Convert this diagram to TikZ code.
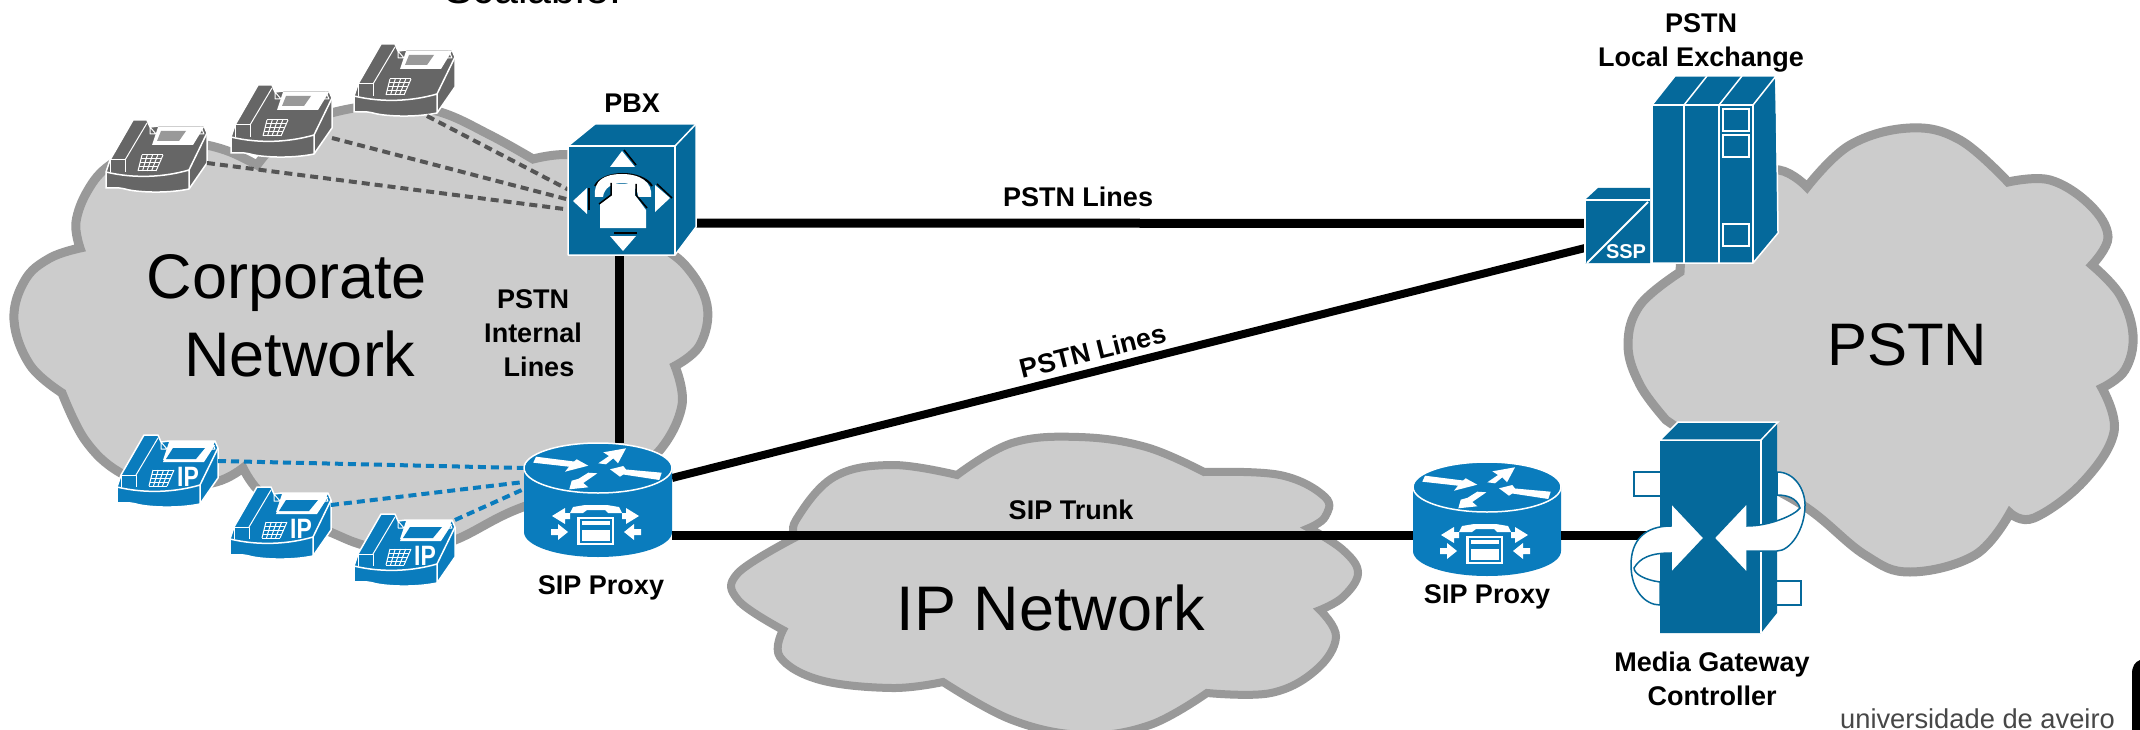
\documentclass[tikz,border=0pt]{standalone}
\usepackage{fontspec}
\setmainfont{Liberation Sans}
\usetikzlibrary{arrows.meta}
\definecolor{cloudfill}{HTML}{CCCCCC}
\definecolor{cloudline}{HTML}{999999}
\definecolor{boxblue}{HTML}{05699B}
\definecolor{devblue}{HTML}{0A7CBD}
\definecolor{phonegray}{HTML}{666666}
\definecolor{dashgray}{HTML}{555555}
\tikzset{
  cloudshape/.style={fill=cloudfill,draw=cloudline,line width=9pt,line join=miter,miter limit=4},
  sm/.style={smooth,tension=0.65},
  wire/.style={line width=9pt,black},
  graydash/.style={line width=4pt,dashgray,dash pattern=on 8pt off 5pt},
  bluedash/.style={line width=4pt,devblue,dash pattern=on 8pt off 5pt},
  lbl/.style={font=\fontsize{27}{34}\selectfont\bfseries,align=center,inner sep=0pt},
  big/.style={font=\fontsize{63}{78}\selectfont,align=center,inner sep=0pt},
  wline/.style={draw=white,line width=1.5pt,line join=round},
}
\newcommand\ipmark{%
  \fill[white] (55,10) -- (99,10) -- (88,27) -- (47,27) -- cycle;
  \fill[devblue] (57,13) -- (89,13) -- (80,24) -- (50,24) -- cycle;
  \node[white,inner sep=0pt,font=\fontsize{28}{28}\selectfont\bfseries] at (72,42) {\scalebox{.82}[1]{IP}};}
% phone: name, x, y, colour, screen colour, extra drawing
\newcommand\phoneicon[6]{%
  \begin{scope}[shift={(#2,#3)}]
    \node[inner sep=0pt,outer sep=0pt,minimum width=102pt,minimum height=72pt,anchor=north west] (#1) at (0,0) {};
    \fill[#4,wline] (1,52) -- (5,40) -- (28,0) -- (42,0) -- (45,7) -- (53,6) -- (99,6) -- (102,13) -- (102,43) -- (84,69)
      .. controls (60,74) and (30,72) .. (20,69) .. controls (12,67) and (6,68) .. (1,68) -- cycle;
    \draw[wline] (1,52) .. controls (30,59) and (60,57) .. (84,50) -- (84,69);
    \draw[wline] (84,50) -- (102,13);
    \draw[wline,line width=1pt] (5,40) -- (20,40) -- (20,52);
    \draw[wline,line width=1pt] (20,40) -- (42,3);
    \draw[wline,line width=1pt] (5,40) -- (5,52);
    \draw[wline,line width=1pt] (45,7) -- (45,14) -- (51,14) -- cycle;
    \draw[wline,line width=1pt] (96,7) -- (99,14) -- (94,14) -- cycle;
    \fill[white] (53,7) -- (99,7) -- (88,25) -- (47,25) -- cycle;
    \fill[#5] (56,11) -- (81,11) -- (74,21) -- (52,21) -- cycle;
    \foreach \t in {0,0.25,0.5,0.75,1}{
      \draw[white,line width=1pt] ({37-4*\t},{35+16*\t}) -- ({58-7*\t},{35+16*\t});
      \draw[white,line width=1pt] ({37+21*\t},35) -- ({33+18*\t},51);
    }
    #6
  \end{scope}}
% router: name, x and y of the centre of the top ellipse
\newcommand\sarrow[4]{\fill[white] (#1,#4) -- (#2,{#4-8}) -- (#2,{#4-3}) -- (#3,{#4-3}) -- (#3,{#4+3}) -- (#2,{#4+3}) -- (#2,{#4+8}) -- cycle;}
\newcommand\routericon[3]{%
  \begin{scope}[shift={(#2,#3)}]
    \node[inner sep=0pt,outer sep=0pt,minimum width=148pt,minimum height=114pt] (#1) at (0,32) {};
    \fill[devblue] (-74,0) -- (-74,64) arc[start angle=180,end angle=360,x radius=74pt,y radius=25pt] -- (74,0)
       arc[start angle=0,end angle=180,x radius=74pt,y radius=25pt] -- cycle;
    \draw[white,line width=1.5pt] (-74,0) arc[start angle=180,end angle=540,x radius=74pt,y radius=25pt];
    \fill[white] (-62,-11.3) -- (-24,-6.5) -- (-21.3,-8.7) -- (-9.7,-2.3) -- (-33,3.7) -- (-29,-1.3) -- (-64.7,-5.3) -- cycle;
    \fill[white] (0.3,-4.7) -- (8,-3.7) -- (15.3,-9.7) -- (20,-4.7) -- (28,-19.7) -- (5.3,-15.7) -- (11,-12) -- cycle;
    \fill[white] (63.7,4.7) -- (28,1.5) -- (25.3,-2) -- (12,1.3) -- (22,8.7) -- (25.3,6.5) -- (61.3,12) -- cycle;
    \fill[white] (-9.7,4.7) -- (-0.7,5.3) -- (-14.7,15) -- (-9.7,19.3) -- (-28.7,21.3) -- (-26.3,12.7) -- (-19.5,10.8) -- cycle;
    \fill[white] (-28,45) -- (-25,39) -- (-13,37) -- (9,37) -- (21,39) -- (24,45) -- (10,45) -- (7,42) -- (-11,42) -- (-15,45) -- cycle;
    \fill[white] (-21,49) rectangle (16,77);
    \fill[devblue] (-18.5,51) rectangle (13.5,74.5);
    \fill[white] (-16,53) rectangle (12,57);
    \fill[white] (-16,62) rectangle (12,73);
    \sarrow{-46}{-33}{-28}{48}
    \sarrow{41}{28}{24}{48}
    \sarrow{-30}{-40}{-47}{64}
    \sarrow{26}{36}{43}{64}
  \end{scope}}
\begin{document}
\begin{tikzpicture}[x=1pt,y=-1pt]
\useasboundingbox (0,0) rectangle (2140,730);
\fill[white] (0,0) rectangle (2140,730);

% clouds
\path[cloudshape]
  plot[sm] coordinates {(80,248) (76,222) (88,190) (110,165) (150,145) (190,143) (225,150) (257,165)}
  -- plot[sm] coordinates {(257,165) (290,130) (335,112) (390,105) (440,112) (490,135) (533,159)}
  -- plot[sm] coordinates {(533,159) (570,155) (610,170) (640,205) (650,240)}
  -- plot[sm] coordinates {(650,240) (685,265) (707,305) (700,345) (675,366)}
  -- plot[sm] coordinates {(675,366) (682,405) (660,450) (620,480)}
  -- plot[sm] coordinates {(620,480) (523,507) (455,540) (405,553) (363,545) (330,532) (290,515) (258,490) (243,468)}
  -- plot[sm] coordinates {(243,468) (216,482) (165,488) (119,472) (85,440) (62,393)}
  -- plot[sm] coordinates {(62,393) (30,365) (14,320) (25,280) (50,258) (80,248)} -- cycle;
\path[cloudshape]
  plot[sm] coordinates {(1680,272) (1690,220) (1730,175) (1779,170) (1807,187)}
  -- plot[sm] coordinates {(1807,187) (1850,145) (1910,128) (1960,140) (2008,182)}
  -- plot[sm] coordinates {(2008,182) (2050,180) (2090,205) (2108,237) (2092,265)}
  -- plot[sm] coordinates {(2092,265) (2120,295) (2133,335) (2125,370) (2102,388)}
  -- plot[sm] coordinates {(2102,388) (2114,432) (2083,482) (2034,518) (2010,513)}
  -- plot[sm] coordinates {(2010,513) (1975,555) (1910,572) (1865,555) (1807,508) (1740,470) (1666,420)}
  -- plot[sm] coordinates {(1666,420) (1640,385) (1628,345) (1640,305) (1680,272)} -- cycle;
\path[cloudshape,line width=8pt]
  plot[sm] coordinates {(796,537) (796,520) (834,477) (892,465) (957,475)}
  -- plot[sm] coordinates {(957,475) (1012,443) (1079,437) (1146,447) (1204,472)}
  -- plot[sm] coordinates {(1204,472) (1280,475) (1325,497) (1325,517) (1309,528)}
  -- plot[sm] coordinates {(1309,528) (1343,550) (1358,573) (1343,597) (1320,610)}
  -- plot[sm] coordinates {(1320,610) (1336,637) (1316,670) (1271,693) (1207,693)}
  -- plot[sm] coordinates {(1207,693) (1150,725) (1084,735) (1012,720) (943,682)}
  -- plot[sm] coordinates {(943,682) (892,688) (820,680) (780,657) (783,630)}
  -- plot[sm] coordinates {(783,630) (738,600) (738,573) (796,537)} -- cycle;

% device anchors
\node[inner sep=0pt,outer sep=0pt,minimum width=128pt,minimum height=131pt] (pbx) at (632,189.5) {};
\node[inner sep=0pt,outer sep=0pt,minimum width=65pt,minimum height=75pt] (ssp) at (1617.5,225.5) {};
\node[inner sep=0pt,outer sep=0pt,minimum width=117pt,minimum height=211pt] (mgc) at (1718.5,527.5) {};

% phones
\phoneicon{g1}{105}{120}{phonegray}{cloudline}{}
\phoneicon{g2}{230}{85}{phonegray}{cloudline}{}
\phoneicon{g3}{353}{44}{phonegray}{cloudline}{}
\phoneicon{b1}{116}{435}{devblue}{devblue}{\ipmark}
\phoneicon{b2}{229}{487}{devblue}{devblue}{\ipmark}
\phoneicon{b3}{353}{514}{devblue}{devblue}{\ipmark}

% connectors
\draw[graydash] ([yshift=-7pt]g1.east) -- ([yshift=-20pt]pbx.west);
\draw[graydash] ([yshift=-17pt]g2.east) -- ([yshift=-10pt]pbx.west);
\draw[graydash] ([xshift=23pt]g3.south) -- (pbx.west);
\node[inner sep=0pt,outer sep=0pt,minimum width=148pt,minimum height=114pt] (sipanchor) at (598,500) {};
\draw[bluedash] ([yshift=10pt]b1.east) -- ([yshift=32pt]sipanchor.west);
\draw[bluedash] ([yshift=18pt]b2.east) -- ([yshift=18pt]sipanchor.west);
\draw[bluedash] ([yshift=30pt]b3.east) -- ([yshift=11pt]sipanchor.west);
\draw[wire] ([xshift=-13pt]pbx.south) -- ([xshift=21pt]sipanchor.north);
\draw[wire] ([yshift=-33.5pt]pbx.east) -- ([yshift=2pt]ssp.west);
\draw[wire,line width=8pt] ([yshift=22pt]sipanchor.east) -- ([yshift=-22.5pt]ssp.west);

% routers
\routericon{sip1}{598}{468}
\routericon{sip2}{1487}{487}
\draw[wire] ([yshift=-35pt]sip1.east) -- ([yshift=-16pt]sip2.west);
\draw[wire] ([yshift=-16pt]sip2.east) -- ([yshift=-7.5pt]mgc.west);

% PBX
\fill[boxblue] (568,146) -- (595,124) -- (696,124) -- (696,227) -- (675,255) -- (568,255) -- cycle;
\draw[wline] (568,146) -- (595,124) -- (696,124) -- (696,227) -- (675,255) -- (568,255) -- cycle;
\draw[wline] (568,146) -- (675,146) -- (675,255);
\draw[wline] (675,146) -- (696,124);
\draw[black,line width=1.5pt] (624,150) -- (636,165);
\fill[white] (622,151) -- (635,167) -- (610,167) -- cycle;
\draw[black,line width=1.5pt] (614,233) -- (637,233);
\fill[white] (610,236) -- (636,236) -- (623,251) -- cycle;
\draw[black,line width=1.5pt] (589,188) -- (589,210);
\fill[white] (573,201) -- (587,188) -- (587,214) -- cycle;
\draw[black,line width=1.5pt] (657,184) -- (672,198);
\fill[white] (670,198) -- (655,185) -- (655,212) -- cycle;
\draw[black,line width=2pt] (595,186) .. controls (603,170) and (642,170) .. (652,186);
\fill[white] (595,197) .. controls (593,180) and (605,174) .. (622,174) .. controls (640,174) and (653,182) .. (651,197)
  -- (638,197) .. controls (638,188) and (632,183) .. (622,183) .. controls (612,183) and (604,188) .. (603,197) -- cycle;
\fill[white] (600,228) -- (646,228) -- (646,210) -- (635,195) -- (635,184) -- (612,184) -- (612,195) -- (600,204) -- cycle;
\draw[black,line width=1.5pt] (611,183) -- (611,195) -- (599,204);
\draw[black,line width=1.5pt] (636,184) -- (636,195) -- (647,208);

% PSTN local exchange
\fill[boxblue] (1652,105) -- (1675,76) -- (1775,76) -- (1778,233) -- (1753,263) -- (1652,263) -- cycle;
\draw[wline] (1652,105) -- (1753,105) -- (1753,263);
\draw[wline] (1684,105) -- (1684,263);
\draw[wline] (1719,105) -- (1719,263);
\draw[wline] (1753,105) -- (1776,76) -- (1778,233) -- (1753,263) -- (1652,263) -- (1652,105) -- (1675,76) -- (1776,76);
\draw[wline] (1684,105) -- (1707,76);
\draw[wline] (1719,105) -- (1742,76);
\draw[white,line width=2pt] (1723,109) rectangle (1749,131);
\draw[white,line width=2pt] (1723,135) rectangle (1749,157);
\draw[white,line width=2pt] (1723,224) rectangle (1749,246);

% SSP
\fill[boxblue] (1585,200) -- (1598,188) -- (1650,188) -- (1650,263) -- (1585,263) -- cycle;
\draw[wline] (1585,200) -- (1650,200);
\draw[wline] (1585,200) -- (1585,263);
\draw[white,line width=2pt] (1587,263) -- (1648,202);
\node[white,inner sep=0pt,font=\fontsize{20}{20}\selectfont\bfseries] (ssptext) at (1626,252) {SSP};

% media gateway controller
\draw[boxblue,fill=white,line width=1.5pt] (1634,472) rectangle (1662,496);
\draw[boxblue,fill=white,line width=1.5pt] (1776,581) rectangle (1801,605);
\fill[boxblue] (1660,440) -- (1678,422) -- (1777,422) -- (1777,613) -- (1761,633) -- (1660,633) -- cycle;
\draw[white,line width=1.5pt] (1660,440) -- (1678,422) -- (1778,422) -- (1761,440) -- cycle;
\draw[white,line width=1.5pt] (1761,440) -- (1761,633);
\draw[boxblue,fill=white,line width=1.5pt] (1704,538) -- (1671,503) -- (1671,526)
  .. controls (1645,526) and (1631,540) .. (1631,565) .. controls (1631,590) and (1645,605) .. (1660,605)
  -- (1660,582) .. controls (1645,580) and (1634,574) .. (1634,568) .. controls (1640,558) and (1650,553) .. (1671,553)
  -- (1671,573) -- cycle;
\draw[boxblue,fill=white,line width=1.5pt] (1714,538) -- (1747,503) -- (1747,526)
  .. controls (1770,526) and (1795,515) .. (1800,508) .. controls (1797,498) and (1787,495) .. (1777,495)
  -- (1777,472) .. controls (1795,472) and (1805,490) .. (1805,505) .. controls (1805,530) and (1790,551) .. (1777,551)
  -- (1747,551) -- (1747,573) -- cycle;

% labels
\node[font=\fontsize{43}{43}\selectfont,inner sep=0pt,anchor=base west] (scal) at (444,4) {Scalable:};
\node[big] (corp) at (287,316) {Corporate\\\hspace*{26pt}Network};
\node[big,font=\fontsize{60}{60}\selectfont] (pstn) at (1907,345) {PSTN};
\node[big,anchor=base] (ipn) at (1051,630) {IP Network};
\node[lbl,anchor=base] (lpbx) at (632,113) {PBX};
\node[lbl] (lint) at (533,333) {PSTN\\Internal\\\hspace*{12pt}Lines};
\node[lbl,anchor=base] (l1) at (1078,206.5) {PSTN Lines};
\node[lbl,rotate=14] (l2) at (1093,351) {PSTN Lines};
\node[lbl,anchor=base] (ltr) at (1071,519) {SIP Trunk};
\node[lbl,anchor=base] (lsip1) at (601,594) {SIP Proxy};
\node[lbl,anchor=base] (lsip2) at (1487,603) {SIP Proxy};
\node[lbl] (lex) at (1701,43) {PSTN\\Local Exchange};
\node[lbl] (lmgc) at (1712,679) {Media Gateway\\Controller};
\node[font=\fontsize{27.3}{27}\selectfont,inner sep=0pt,anchor=base,text=black!72] (uni) at (1977.5,728) {universidade de aveiro};
\fill[black] (2140,660) .. controls (2135,662) and (2132,666) .. (2132,674) -- (2132,730) -- (2140,730) -- cycle;
\end{tikzpicture}
\end{document}
